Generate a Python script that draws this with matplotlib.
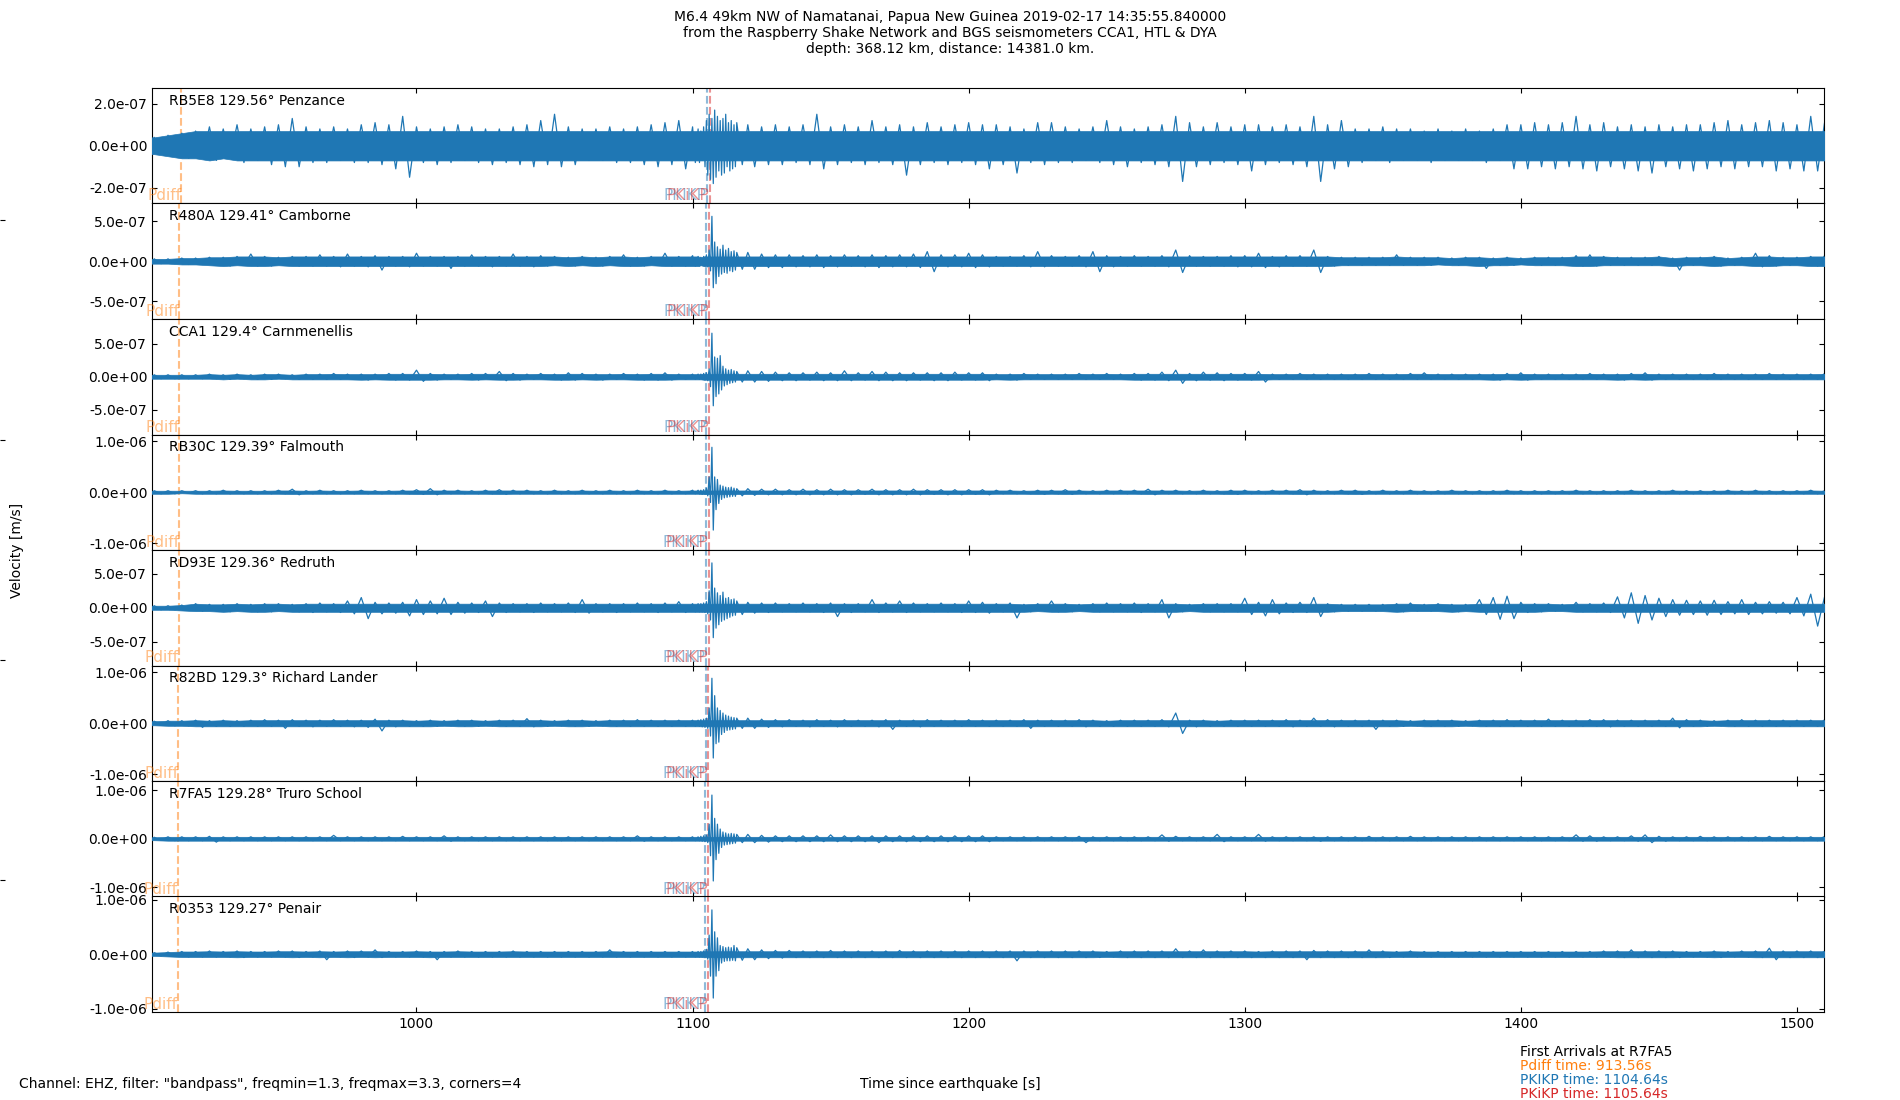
import numpy as np
import matplotlib
matplotlib.use('Agg')
import matplotlib.pyplot as plt
from matplotlib.ticker import FormatStrFormatter

# times [s] of the envelope readings, finer around the core phases
times = np.r_[903, 905:1101:5, 1102:1117, 1120:1511:5]

# upper / lower envelope of each trace, units of 1e-8 m/s
rb5e8_hi = [4,
            4, 5, 6, 7, 9, 8, 10, 8, 9, 10, 13, 9, 8, 9, 8, 10, 11, 10, 14, 9,
            8, 9, 10, 9, 8, 8, 9, 10, 12, 15, 9, 8, 8, 9, 8, 9, 10, 11, 12, 9,
            8, 7, 9, 12, 15, 13, 17, 14, 12, 13, 15, 11, 12, 10, 11,
            10, 9, 10, 9, 10, 15, 9, 10, 9, 12, 9, 10, 9, 11, 9, 10, 11, 10,
            10, 9, 8, 11, 11, 9, 8, 9, 12, 9, 8, 9, 10, 14, 11, 9, 11, 9, 10, 10,
            9, 10, 9, 14, 10, 12, 8, 8, 9, 8, 8, 7, 8, 7, 8, 7, 8, 10, 10, 11,
            10, 11, 14, 10, 11, 9, 10, 9, 10, 9, 10, 10, 11, 12, 10, 11, 12, 11, 10, 14,
            11]
rb5e8_lo = [-4,
            -4, -5, -6, -6, -7, -6, -8, -7, -9, -10, -10, -8, -8, -7, -8, -8, -9, -11, -15, -8,
            -9, -8, -7, -8, -9, -8, -9, -10, -9, -10, -9, -7, -7, -8, -8, -9, -10, -9, -11, -8,
            -8, -7, -10, -14, -16, -18, -15, -12, -14, -13, -10, -12, -11, -10, -9,
            -10, -9, -9, -8, -9, -11, -9, -8, -9, -8, -9, -14, -9, -8, -9, -8, -9, -11,
            -9, -13, -8, -9, -8, -8, -7, -8, -9, -10, -8, -9, -10, -17, -10, -9, -8, -9, -12, -9,
            -8, -9, -10, -17, -11, -10, -8, -7, -8, -7, -7, -8, -7, -7, -7, -8, -7, -11, -11, -10,
            -11, -10, -11, -12, -10, -11, -12, -13, -10, -11, -12, -11, -10, -11, -10, -10, -12, -11, -12, -12,
            -13]

r480a_hi = [3,
            3, 3, 4, 4, 5, 5, 6, 9, 6, 5, 6, 6, 8, 6, 9, 6, 7, 6, 6, 10,
            6, 6, 6, 8, 6, 6, 9, 6, 7, 6, 5, 6, 5, 6, 8, 5, 6, 10, 6, 7,
            6, 5, 6, 8, 14, 56, 24, 18, 15, 20, 14, 16, 12, 13, 11,
            11, 9, 8, 8, 7, 8, 7, 8, 7, 8, 7, 8, 9, 12, 8, 8, 10, 8,
            6, 6, 7, 12, 7, 6, 7, 12, 7, 6, 7, 6, 7, 14, 7, 6, 6, 7, 7, 10,
            6, 7, 7, 14, 6, 5, 5, 5, 5, 8, 5, 5, 5, 4, 5, 5, 4, 5, 4, 5,
            5, 5, 7, 8, 6, 5, 5, 5, 6, 4, 5, 5, 6, 4, 5, 10, 7, 5, 5, 6,
            7]
r480a_lo = [-3,
            -3, -3, -4, -4, -5, -6, -5, -6, -6, -5, -6, -6, -6, -7, -6, -7, -11, -6, -7, -6,
            -6, -9, -6, -6, -7, -6, -6, -7, -6, -5, -6, -5, -6, -5, -6, -6, -5, -6, -6, -6,
            -6, -5, -6, -7, -12, -33, -28, -19, -16, -14, -15, -12, -13, -11, -10,
            -10, -8, -8, -7, -7, -8, -7, -6, -7, -8, -7, -7, -8, -13, -7, -7, -8, -7,
            -6, -6, -7, -7, -6, -6, -7, -13, -7, -6, -6, -6, -7, -14, -6, -6, -6, -7, -7, -8,
            -7, -6, -6, -14, -6, -5, -5, -5, -5, -5, -5, -5, -4, -5, -5, -9, -5, -5, -4, -5,
            -5, -5, -6, -6, -5, -5, -5, -5, -5, -11, -5, -5, -6, -5, -5, -7, -6, -5, -5, -6,
            -7]

cca1_hi = [3,
           3, 3, 3, 3, 4, 3, 4, 3, 4, 4, 3, 4, 4, 5, 4, 4, 4, 5, 5, 10,
           5, 4, 4, 5, 5, 8, 5, 4, 5, 4, 6, 5, 4, 4, 5, 4, 5, 6, 4, 4,
           4, 4, 5, 6, 12, 66, 30, 28, 32, 16, 12, 10, 11, 9, 8,
           9, 8, 7, 6, 6, 7, 6, 9, 6, 8, 7, 6, 6, 6, 6, 7, 6, 6,
           4, 4, 5, 4, 4, 4, 5, 4, 5, 4, 5, 5, 7, 10, 5, 7, 6, 5, 5, 8,
           4, 4, 5, 4, 4, 4, 4, 5, 4, 4, 5, 6, 4, 4, 4, 4, 4, 5, 6, 4,
           4, 4, 4, 5, 4, 4, 5, 6, 4, 4, 4, 4, 5, 4, 4, 4, 5, 4, 4, 4,
           5]
cca1_lo = [-3,
           -3, -3, -3, -3, -3, -4, -3, -4, -4, -3, -4, -4, -4, -4, -4, -5, -4, -5, -5, -7,
           -5, -4, -4, -5, -4, -6, -5, -4, -4, -5, -5, -4, -5, -4, -4, -5, -5, -5, -4, -4,
           -4, -4, -5, -6, -15, -44, -30, -26, -20, -14, -12, -10, -9, -8, -8,
           -8, -7, -6, -6, -5, -6, -6, -6, -5, -6, -6, -6, -5, -6, -6, -5, -5, -6,
           -4, -5, -4, -4, -4, -4, -4, -4, -4, -4, -5, -5, -6, -10, -6, -5, -6, -5, -5, -8,
           -4, -4, -4, -4, -4, -4, -4, -4, -4, -4, -4, -4, -4, -4, -4, -4, -5, -4, -5, -4,
           -4, -4, -4, -4, -4, -5, -4, -5, -4, -4, -4, -4, -4, -4, -4, -4, -4, -4, -4, -4,
           -4]

rb30c_hi = [3,
            3, 3, 3, 3, 3, 4, 3, 3, 3, 4, 6, 3, 4, 3, 3, 4, 3, 3, 4, 5,
            7, 4, 4, 3, 4, 5, 4, 4, 3, 4, 3, 4, 3, 4, 3, 4, 3, 4, 3, 4,
            4, 4, 5, 8, 30, 88, 30, 25, 14, 12, 10, 9, 10, 8, 7,
            7, 6, 6, 5, 6, 5, 6, 5, 5, 6, 5, 5, 6, 5, 5, 5, 5, 5,
            4, 4, 3, 4, 4, 5, 4, 3, 4, 4, 4, 6, 4, 4, 3, 4, 3, 4, 4, 3,
            4, 4, 5, 4, 3, 4, 4, 3, 4, 3, 4, 3, 3, 4, 3, 3, 3, 4, 3, 3,
            3, 3, 4, 3, 3, 3, 4, 3, 3, 4, 3, 3, 3, 4, 3, 4, 3, 3, 3, 4,
            3]
rb30c_lo = [-3,
            -3, -3, -2, -3, -3, -3, -3, -3, -3, -3, -5, -3, -3, -3, -3, -3, -3, -3, -3, -4,
            -5, -3, -3, -3, -3, -4, -3, -3, -3, -3, -3, -3, -3, -3, -3, -3, -3, -3, -3, -3,
            -3, -4, -4, -7, -20, -74, -34, -22, -14, -11, -10, -9, -8, -8, -7,
            -6, -5, -5, -5, -5, -5, -5, -5, -4, -5, -5, -5, -5, -4, -5, -5, -4, -5,
            -3, -3, -3, -4, -3, -4, -3, -3, -3, -3, -3, -5, -3, -3, -3, -3, -3, -4, -3, -3,
            -3, -3, -5, -3, -3, -3, -4, -3, -3, -3, -3, -3, -3, -3, -3, -3, -3, -3, -3, -3,
            -3, -3, -3, -3, -3, -3, -3, -3, -3, -3, -3, -3, -3, -3, -3, -3, -3, -3, -3, -3,
            -3]

rd93e_hi = [3,
            3, 3, 4, 6, 5, 5, 6, 5, 6, 6, 5, 6, 7, 6, 10, 15, 8, 7, 8, 12,
            10, 14, 8, 7, 10, 7, 6, 6, 7, 6, 7, 12, 6, 6, 6, 7, 6, 7, 9, 6,
            6, 6, 7, 9, 25, 66, 29, 22, 18, 23, 14, 15, 12, 13, 10,
            8, 7, 7, 6, 7, 6, 7, 6, 6, 12, 7, 10, 7, 6, 7, 6, 10, 8,
            6, 7, 5, 6, 10, 6, 5, 6, 7, 6, 7, 6, 12, 6, 5, 6, 6, 6, 14, 8,
            12, 7, 8, 15, 6, 5, 5, 5, 5, 6, 7, 5, 6, 5, 5, 12, 15, 17, 8, 6,
            6, 5, 8, 6, 7, 16, 22, 18, 14, 12, 11, 10, 11, 9, 12, 8, 9, 8, 15, 20,
            16]
rd93e_lo = [-3,
            -3, -3, -4, -5, -5, -6, -5, -6, -6, -5, -6, -7, -6, -7, -9, -16, -9, -8, -12, -10,
            -9, -10, -8, -7, -13, -7, -6, -7, -6, -6, -7, -8, -6, -7, -6, -6, -7, -6, -7, -6,
            -6, -6, -7, -9, -18, -44, -30, -25, -20, -18, -16, -14, -12, -11, -10,
            -8, -7, -6, -6, -6, -7, -13, -7, -6, -7, -6, -7, -6, -6, -6, -7, -7, -8,
            -6, -15, -6, -5, -6, -6, -5, -6, -6, -6, -7, -6, -15, -6, -5, -6, -6, -6, -10, -12,
            -9, -7, -7, -13, -6, -5, -5, -5, -5, -6, -5, -5, -5, -6, -5, -10, -17, -16, -7, -6,
            -5, -5, -6, -6, -7, -15, -23, -18, -13, -11, -10, -11, -10, -9, -10, -9, -8, -9, -12, -27,
            -18]

r82bd_hi = [4,
            4, 5, 5, 6, 5, 6, 5, 6, 7, 6, 7, 6, 6, 7, 6, 6, 8, 6, 6, 5,
            6, 5, 6, 6, 5, 6, 6, 9, 6, 5, 6, 6, 5, 6, 6, 7, 6, 6, 6, 6,
            6, 7, 8, 10, 30, 88, 54, 30, 25, 20, 16, 14, 12, 11, 10,
            10, 8, 7, 7, 6, 7, 6, 7, 6, 6, 7, 6, 6, 7, 6, 6, 7, 6,
            6, 6, 7, 6, 6, 6, 7, 6, 5, 6, 6, 6, 7, 20, 6, 6, 5, 6, 6, 6,
            6, 7, 6, 10, 7, 6, 6, 6, 6, 6, 5, 6, 6, 6, 5, 6, 6, 7, 6, 6,
            8, 6, 6, 7, 7, 6, 6, 6, 6, 10, 7, 6, 5, 6, 7, 6, 6, 6, 6, 6,
            7]
r82bd_lo = [-4,
            -4, -5, -5, -8, -6, -6, -6, -6, -6, -10, -6, -7, -6, -6, -7, -8, -15, -7, -6, -6,
            -6, -5, -6, -6, -5, -6, -6, -7, -6, -5, -6, -6, -5, -6, -6, -6, -6, -6, -6, -6,
            -6, -7, -8, -10, -25, -68, -40, -37, -22, -18, -14, -13, -12, -11, -10,
            -10, -8, -7, -6, -7, -6, -7, -6, -6, -7, -12, -6, -7, -6, -6, -6, -6, -6,
            -6, -6, -10, -6, -6, -6, -7, -6, -6, -6, -6, -6, -7, -20, -7, -6, -6, -6, -6, -6,
            -6, -7, -6, -6, -7, -6, -6, -12, -6, -6, -5, -6, -6, -6, -5, -6, -6, -6, -6, -6,
            -6, -6, -6, -6, -7, -6, -6, -6, -6, -9, -6, -6, -5, -6, -6, -6, -6, -6, -6, -6,
            -7]

r7fa5_hi = [3,
            3, 4, 4, 4, 5, 4, 4, 4, 4, 4, 4, 4, 4, 7, 4, 4, 4, 4, 5, 4,
            4, 6, 4, 4, 4, 4, 4, 4, 4, 4, 4, 4, 4, 4, 4, 6, 4, 4, 4, 4,
            4, 5, 6, 8, 30, 90, 42, 30, 20, 14, 12, 10, 11, 10, 9,
            9, 7, 6, 6, 6, 6, 8, 6, 6, 6, 6, 6, 6, 6, 6, 6, 6, 6,
            4, 4, 4, 4, 4, 4, 5, 4, 4, 4, 4, 4, 8, 5, 4, 4, 9, 4, 4, 9,
            4, 4, 4, 4, 4, 4, 4, 5, 4, 4, 5, 4, 4, 4, 4, 4, 4, 4, 4, 4,
            4, 4, 8, 6, 4, 4, 6, 8, 5, 4, 4, 5, 4, 4, 4, 4, 5, 4, 4, 4,
            5]
r7fa5_lo = [-3,
            -3, -4, -4, -4, -7, -4, -4, -4, -4, -4, -4, -4, -4, -4, -4, -4, -4, -4, -4, -4,
            -4, -5, -4, -4, -4, -4, -4, -4, -4, -4, -4, -4, -4, -4, -4, -5, -4, -4, -4, -4,
            -4, -5, -6, -8, -35, -87, -43, -30, -18, -13, -12, -11, -10, -9, -8,
            -8, -7, -6, -6, -6, -6, -6, -6, -6, -8, -6, -6, -6, -6, -6, -6, -6, -6,
            -4, -4, -4, -4, -4, -4, -8, -4, -4, -4, -4, -4, -5, -4, -4, -4, -6, -4, -4, -5,
            -4, -4, -4, -5, -4, -4, -4, -4, -4, -4, -4, -4, -4, -4, -4, -4, -4, -4, -4, -4,
            -4, -4, -5, -5, -4, -4, -5, -8, -5, -4, -4, -4, -4, -4, -4, -4, -4, -4, -4, -4,
            -4]

r0353_hi = [3,
            3, 4, 5, 5, 6, 5, 6, 5, 5, 6, 6, 5, 6, 5, 6, 6, 8, 5, 5, 6,
            5, 5, 6, 5, 5, 5, 6, 5, 5, 5, 5, 5, 5, 8, 5, 5, 5, 5, 5, 5,
            5, 5, 6, 9, 35, 81, 41, 30, 16, 14, 12, 13, 12, 16, 12,
            10, 8, 7, 7, 6, 6, 7, 6, 6, 6, 6, 7, 6, 6, 6, 6, 6, 6,
            6, 6, 6, 6, 6, 6, 6, 6, 5, 6, 6, 6, 6, 10, 6, 8, 6, 6, 6, 5,
            6, 6, 6, 7, 6, 6, 6, 8, 6, 5, 6, 5, 5, 5, 5, 5, 5, 5, 5, 5,
            5, 5, 5, 5, 6, 6, 8, 6, 6, 6, 5, 5, 6, 5, 6, 6, 11, 6, 6, 6,
            6]
r0353_lo = [-3,
            -3, -4, -5, -5, -5, -5, -6, -5, -5, -5, -6, -5, -10, -5, -6, -5, -6, -5, -5, -5,
            -10, -5, -5, -5, -5, -5, -5, -5, -5, -5, -5, -5, -5, -5, -5, -5, -5, -5, -5, -5,
            -5, -5, -6, -9, -40, -80, -40, -30, -16, -13, -12, -12, -11, -12, -11,
            -10, -8, -7, -6, -6, -6, -6, -6, -6, -6, -6, -6, -6, -6, -6, -6, -6, -6,
            -6, -12, -6, -6, -6, -6, -6, -6, -5, -6, -6, -6, -6, -6, -6, -6, -6, -6, -6, -6,
            -6, -6, -10, -6, -6, -6, -6, -6, -6, -5, -5, -5, -5, -5, -5, -5, -5, -5, -5, -5,
            -5, -5, -5, -5, -5, -6, -6, -6, -6, -6, -5, -5, -6, -5, -5, -6, -10, -6, -6, -6,
            -6]

# half width of the dense (solid looking) part of each trace, 1e-8 m/s
core = [7, 6, 4.5, 3.5, 6, 6, 4, 5.5]

codes = ['RB5E8', 'R480A', 'CCA1', 'RB30C', 'RD93E', 'R82BD', 'R7FA5', 'R0353']
dists = [129.56, 129.41, 129.4, 129.39, 129.36, 129.3, 129.28, 129.27]
places = ['Penzance', 'Camborne', 'Carnmenellis', 'Falmouth', 'Redruth',
          'Richard Lander', 'Truro School', 'Penair']
highs = [rb5e8_hi, r480a_hi, cca1_hi, rb30c_hi, rd93e_hi, r82bd_hi, r7fa5_hi, r0353_hi]
lows = [rb5e8_lo, r480a_lo, cca1_lo, rb30c_lo, rd93e_lo, r82bd_lo, r7fa5_lo, r0353_lo]

# axis half ranges and tick steps [m/s]
ylims = [2.75e-7, 7.2e-7, 8.75e-7, 1.13e-6, 8.5e-7, 1.13e-6, 1.19e-6, 1.055e-6]
ysteps = [2e-7, 5e-7, 5e-7, 1e-6, 5e-7, 1e-6, 1e-6, 1e-6]

# predicted arrivals at each station [s]
pdiff_t = [914.86, 914.16, 914.11, 914.07, 913.93, 913.65, 913.56, 913.51]
pkikp_t = [1105.17, 1104.89, 1104.87, 1104.85, 1104.79, 1104.68, 1104.64, 1104.62]
pkikp2_t = [1106.17, 1105.89, 1105.87, 1105.85, 1105.79, 1105.68, 1105.64, 1105.62]

plt.rcParams['xtick.direction'] = 'in'
plt.rcParams['ytick.direction'] = 'in'

fig, axs = plt.subplots(8, 1, sharex=True, figsize=(19, 11))
fig.subplots_adjust(left=0.08, right=0.96, top=0.92, bottom=0.08, hspace=0)

# each minimum sits half way to the next reading
half = np.append(np.diff(times), 5) / 2
for i, ax in enumerate(axs):
    hi = np.array(highs[i]) * 1e-8
    lo = np.array(lows[i]) * 1e-8
    c = core[i] * 1e-8
    ax.fill_between(times, np.maximum(lo, -c), np.minimum(hi, c),
                    color='C0', lw=0.5, zorder=3)
    zx = np.column_stack([times, times + half]).ravel()
    zy = np.column_stack([hi, lo]).ravel()
    ax.plot(zx, zy, color='C0', lw=0.9, zorder=3)
    ax.set_ylim(-ylims[i], ylims[i])
    ax.set_yticks([-ysteps[i], 0, ysteps[i]])
    ax.yaxis.set_major_formatter(FormatStrFormatter('%.1e'))
    ax.tick_params(top=True, right=True)
    ax.axvline(pdiff_t[i], color='C1', ls='--', lw=1.5, alpha=0.5)
    ax.axvline(pkikp_t[i], color='C0', ls='--', lw=1.5, alpha=0.5)
    ax.axvline(pkikp2_t[i], color='C3', ls='--', lw=1.5, alpha=0.5)
    ax.text(pdiff_t[i], -ylims[i], 'Pdiff', color='C1', alpha=0.5,
            ha='right', va='bottom', fontsize=11)
    ax.text(pkikp_t[i], -ylims[i], 'PKIKP', color='C0', alpha=0.5,
            ha='right', va='bottom', fontsize=11)
    ax.text(pkikp2_t[i], -ylims[i], 'PKiKP', color='C3', alpha=0.5,
            ha='right', va='bottom', fontsize=11)
    ax.text(0.01, 0.95, codes[i] + ' ' + str(dists[i]) + '\u00b0 ' + places[i],
            transform=ax.transAxes, va='top')

axs[0].set_xlim(904.2, 1509.8)

big = fig.add_axes([0, 0, 1, 1], frameon=False)
big.set_xticks([])
big.set_yticks([0.2, 0.4, 0.6, 0.8])
big.tick_params(axis='y', direction='in', labelleft=False)
big.set_zorder(-1)

fig.suptitle('M6.4 49km NW of Namatanai, Papua New Guinea 2019-02-17 14:35:55.840000\n'
             'from the Raspberry Shake Network and BGS seismometers CCA1, HTL & DYA\n'
             'depth: 368.12 km, distance: 14381.0 km.', y=0.991, va='top', fontsize=10)
fig.text(0.009, 0.5, 'Velocity [m/s]', rotation=90, ha='center', va='center')
fig.text(0.5, 0.0146, 'Time since earthquake [s]', ha='center', va='center')
fig.text(0.0102, 0.0146, 'Channel: EHZ, filter: "bandpass", freqmin=1.3, freqmax=3.3, corners=4',
         ha='left', va='center')
fig.text(0.8, 0.0435, 'First Arrivals at R7FA5', va='center')
fig.text(0.8, 0.0305, 'Pdiff time: 913.56s', color='C1', va='center')
fig.text(0.8, 0.0185, 'PKIKP time: 1104.64s', color='C0', va='center')
fig.text(0.8, 0.0055, 'PKiKP time: 1105.64s', color='C3', va='center')

fig.savefig('out.png', dpi=100)
